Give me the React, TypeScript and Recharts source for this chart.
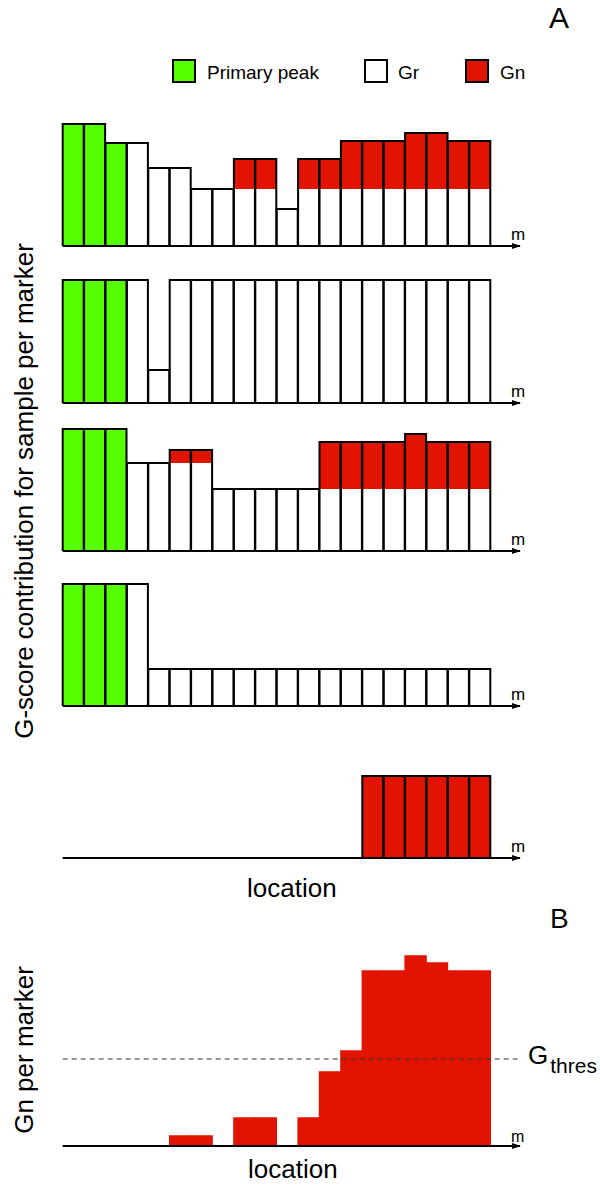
import React from "react";
import { BarChart, Bar, XAxis, YAxis, ReferenceLine } from "recharts";

// ---------- data ----------
const MARKERS = ["1", "2", "3", "4", "5", "6", "7", "8", "9", "10", "11", "12", "13", "14", "15", "16", "17", "18", "19", "20"];

// Panel A1
const A1_PEAK = [122, 122, 103, 0, 0, 0, 0, 0, 0, 0, 0, 0, 0, 0, 0, 0, 0, 0, 0, 0];
const A1_GR = [0, 0, 0, 103, 78, 78, 57, 57, 57, 57, 37, 57, 57, 57, 57, 57, 57, 57, 57, 57];
const A1_GN = [0, 0, 0, 0, 0, 0, 0, 0, 30, 30, 0, 30, 30, 48, 48, 48, 56, 56, 48, 48];

// Panel A2
const A2_PEAK = [123, 123, 123, 0, 0, 0, 0, 0, 0, 0, 0, 0, 0, 0, 0, 0, 0, 0, 0, 0];
const A2_GR = [0, 0, 0, 123, 33, 123, 123, 123, 123, 123, 123, 123, 123, 123, 123, 123, 123, 123, 123, 123];
const A2_GN = [0, 0, 0, 0, 0, 0, 0, 0, 0, 0, 0, 0, 0, 0, 0, 0, 0, 0, 0, 0];

// Panel A3
const A3_PEAK = [122, 122, 122, 0, 0, 0, 0, 0, 0, 0, 0, 0, 0, 0, 0, 0, 0, 0, 0, 0];
const A3_GR = [0, 0, 0, 88, 88, 88, 88, 62, 62, 62, 62, 62, 62, 62, 62, 62, 62, 62, 62, 62];
const A3_GN = [0, 0, 0, 0, 0, 13, 13, 0, 0, 0, 0, 0, 47, 47, 47, 47, 55, 47, 47, 47];

// Panel A4
const A4_PEAK = [122, 122, 122, 0, 0, 0, 0, 0, 0, 0, 0, 0, 0, 0, 0, 0, 0, 0, 0, 0];
const A4_GR = [0, 0, 0, 122, 37, 37, 37, 37, 37, 37, 37, 37, 37, 37, 37, 37, 37, 37, 37, 37];
const A4_GN = [0, 0, 0, 0, 0, 0, 0, 0, 0, 0, 0, 0, 0, 0, 0, 0, 0, 0, 0, 0];

// Panel A5
const A5_PEAK = [0, 0, 0, 0, 0, 0, 0, 0, 0, 0, 0, 0, 0, 0, 0, 0, 0, 0, 0, 0];
const A5_GR = [0, 0, 0, 0, 0, 0, 0, 0, 0, 0, 0, 0, 0, 0, 0, 0, 0, 0, 0, 0];
const A5_GN = [0, 0, 0, 0, 0, 0, 0, 0, 0, 0, 0, 0, 0, 0, 82, 82, 82, 82, 82, 82];

// Panel B: Gn per marker
const B_GN = [0, 0, 0, 0, 0, 10, 10, 0, 28, 28, 0, 28, 74, 95, 175, 175, 190, 183, 175, 175];
const G_THRES = 87;

const LEGEND_LABELS = ["Primary peak", "Gr", "Gn"];

// ---------- styles ----------
const GREEN = "#55ff00";
const RED = "#e01400";
const FONT = "'Liberation Sans', Arial, Helvetica, sans-serif";
const PLOT_LEFT = 62.7;
const PLOT_RIGHT_MARGIN = 80;
const AXIS_PAD_RIGHT = 29.3;

const mLabel = (size: number, dy: number) => (p: any) => {
  const vb = p.viewBox || {};
  return (
    <text x={vb.x + vb.width - 9} y={vb.y - dy} fontSize={size} fontFamily={FONT} fill="#000">
      m
    </text>
  );
};

function StackPanel({ baseline, peak, gr, gn }: { baseline: number; peak: number[]; gr: number[]; gn: number[] }) {
  const data = MARKERS.map((c, i) => ({
    cat: c,
    peak: peak[i],
    gr: gr[i],
    gn: gn[i],
    total: peak[i] + gr[i] + gn[i],
  }));
  const plotH = 130;
  return (
    <div style={{ position: "absolute", left: 0, top: baseline - plotH }}>
      <BarChart
        width={600}
        height={plotH + 10}
        data={data}
        margin={{ top: 0, right: PLOT_RIGHT_MARGIN, bottom: 9, left: PLOT_LEFT }}
        barCategoryGap={0}
        barGap={0}
      >
        <XAxis
          dataKey="cat"
          tick={false}
          tickLine={false}
          height={1}
          axisLine={{ stroke: "#000", strokeWidth: 2, markerEnd: "url(#arrowhead)" }}
          padding={{ left: 0, right: AXIS_PAD_RIGHT }}
          label={mLabel(17, 6)}
        />
        <XAxis xAxisId="o" dataKey="cat" hide padding={{ left: 0, right: AXIS_PAD_RIGHT }} />
        <YAxis hide domain={[0, plotH]} allowDataOverflow />
        <Bar dataKey="peak" stackId="s" fill={GREEN} isAnimationActive={false} />
        <Bar dataKey="gr" stackId="s" fill="#ffffff" isAnimationActive={false} />
        <Bar dataKey="gn" stackId="s" fill={RED} isAnimationActive={false} />
        <Bar dataKey="total" xAxisId="o" fill="none" stroke="#000" strokeWidth={2} isAnimationActive={false} />
      </BarChart>
    </div>
  );
}

const ThresLabel = (p: any) => {
  const vb = p.viewBox || {};
  const x = vb.x + vb.width + 8;
  const y = vb.y + 5;
  return (
    <text x={x} y={y} fontSize={26} fontFamily={FONT} fill="#000">
      G
      <tspan dx={2} dy={9} fontSize={21}>
        thres
      </tspan>
    </text>
  );
};

function PanelB({ baseline }: { baseline: number }) {
  const data = MARKERS.map((c, i) => ({ cat: c, gn: B_GN[i] }));
  const plotH = 200;
  return (
    <div style={{ position: "absolute", left: 0, top: baseline - plotH }}>
      <BarChart
        width={600}
        height={plotH + 10}
        data={data}
        margin={{ top: 0, right: PLOT_RIGHT_MARGIN, bottom: 9, left: PLOT_LEFT }}
        barCategoryGap={0}
        barGap={0}
      >
        <XAxis
          dataKey="cat"
          tick={false}
          tickLine={false}
          height={1}
          axisLine={{ stroke: "#000", strokeWidth: 2, markerEnd: "url(#arrowhead)" }}
          padding={{ left: 0, right: AXIS_PAD_RIGHT }}
          label={mLabel(16, 4)}
        />
        <YAxis hide domain={[0, plotH]} allowDataOverflow />
        <Bar dataKey="gn" fill={RED} stroke={RED} strokeWidth={1.4} isAnimationActive={false} />
        <ReferenceLine y={G_THRES} stroke="#333" strokeWidth={1.2} strokeDasharray="5 4" label={ThresLabel} />
      </BarChart>
    </div>
  );
}

export default function App() {
  return (
    <div style={{ position: "absolute", left: 0, top: 0, width: 600, height: 1187, background: "#fff", fontFamily: FONT }}>
      <svg width={0} height={0} style={{ position: "absolute" }}>
        <defs>
          <marker
            id="arrowhead"
            viewBox="0 0 9 6"
            refX={8}
            refY={3}
            markerWidth={9}
            markerHeight={6}
            markerUnits="userSpaceOnUse"
            orient="auto"
          >
            <path d="M0,0 L9,3 L0,6 z" fill="#000" />
          </marker>
        </defs>
      </svg>

      <StackPanel baseline={245.7} peak={A1_PEAK} gr={A1_GR} gn={A1_GN} />
      <StackPanel baseline={402.7} peak={A2_PEAK} gr={A2_GR} gn={A2_GN} />
      <StackPanel baseline={551} peak={A3_PEAK} gr={A3_GR} gn={A3_GN} />
      <StackPanel baseline={705.7} peak={A4_PEAK} gr={A4_GR} gn={A4_GN} />
      <StackPanel baseline={858.3} peak={A5_PEAK} gr={A5_GR} gn={A5_GN} />
      <PanelB baseline={1145.7} />

      <svg width={600} height={1187} style={{ position: "absolute", left: 0, top: 0, pointerEvents: "none" }} fontFamily={FONT}>
        <text x={549} y={28} fontSize={30} fill="#000">A</text>
        <text x={550} y={928} fontSize={28} fill="#000">B</text>

        <rect x={173} y={60} width={22} height={22} fill={GREEN} stroke="#000" strokeWidth={2} />
        <text x={207} y={79} fontSize={19} fill="#000">{LEGEND_LABELS[0]}</text>
        <rect x={365} y={60} width={22} height={22} fill="#fff" stroke="#000" strokeWidth={2} />
        <text x={398} y={79} fontSize={19} fill="#000">{LEGEND_LABELS[1]}</text>
        <rect x={466} y={60} width={22} height={22} fill={RED} stroke="#000" strokeWidth={2} />
        <text x={500} y={79} fontSize={19} fill="#000">{LEGEND_LABELS[2]}</text>

        <text x={247} y={897} fontSize={26} fill="#000">location</text>
        <text x={248} y={1178} fontSize={26} fill="#000">location</text>

        <text transform="translate(33,491) rotate(-90)" textAnchor="middle" fontSize={26} fill="#000">
          G-score contribution for sample per marker
        </text>
        <text transform="translate(33,1050) rotate(-90)" textAnchor="middle" fontSize={26} fill="#000">
          Gn per marker
        </text>
      </svg>
    </div>
  );
}
